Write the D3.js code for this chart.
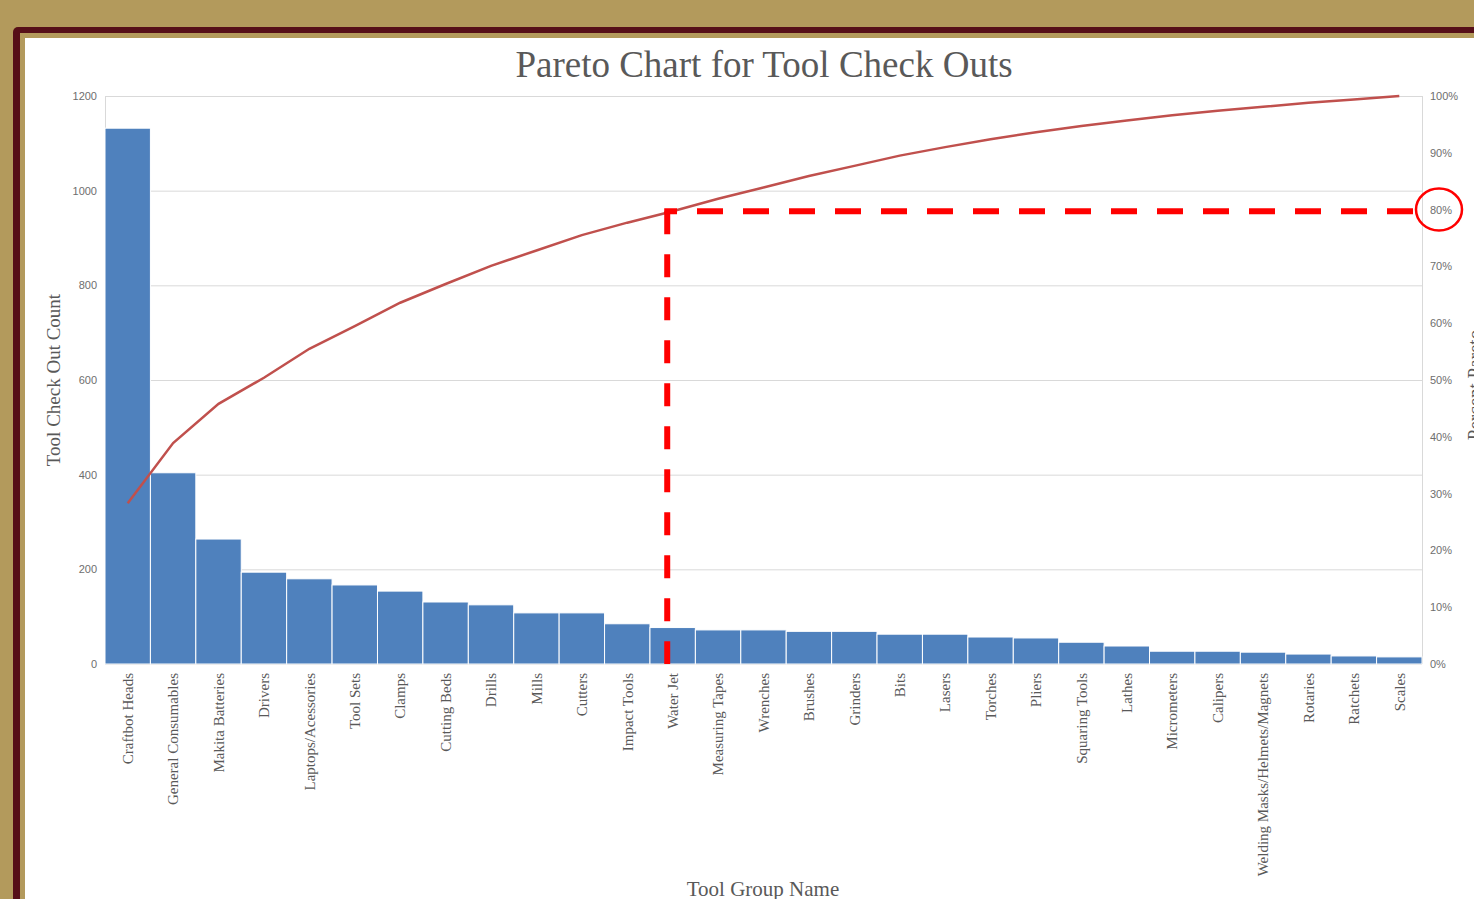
<!DOCTYPE html>
<html>
<head>
<meta charset="utf-8">
<script src="https://cdn.jsdelivr.net/npm/d3@7"></script>
<style>
html,body{margin:0;padding:0;background:#b39a5c;}
svg{display:block;}
</style>
</head>
<body>
<svg id="chart" width="1474" height="899"></svg>
<script>
const categories = ["Craftbot Heads","General Consumables","Makita Batteries","Drivers","Laptops/Acessories","Tool Sets","Clamps","Cutting Beds","Drills","Mills","Cutters","Impact  Tools","Water Jet","Measuring Tapes","Wrenches","Brushes","Grinders","Bits","Lasers","Torches","Pliers","Squaring Tools","Lathes","Micrometers","Calipers","Welding Masks/Helmets/Magnets","Rotaries","Ratchets","Scales"];
const counts = [1132,404,264,194,180,167,154,131,125,108,108,85,77,72,72,69,69,63,63,57,55,46,38,27,27,25,21,17,15];
const cumulativePct = [28.3,38.9,45.8,50.4,55.5,59.5,63.6,66.9,70.1,72.8,75.5,77.7,79.7,81.9,83.9,85.9,87.7,89.5,91.0,92.4,93.6,94.7,95.7,96.6,97.4,98.1,98.8,99.4,100];
const countTicks = [0,200,400,600,800,1000,1200];
const pctTicks = [0,10,20,30,40,50,60,70,80,90,100];
const chartTitle = "Pareto Chart for Tool Check Outs";
const yTitle = "Tool Check Out Count";
const y2Title = "Percent Pareto";
const xTitle = "Tool Group Name";
const cutoffCategory = "Water Jet";
const cutoffPct = 80;

const svg = d3.select("#chart");
const W = 1474, H = 899;
const L = 105, R = 1422, T = 96, B = 664;

// frame
svg.append("rect").attr("x",0).attr("y",0).attr("width",W).attr("height",H).attr("fill","#b39a5c");
svg.append("rect").attr("x",13).attr("y",27).attr("width",W+20).attr("height",H+20).attr("rx",5).attr("fill","#560f18");
svg.append("rect").attr("x",20).attr("y",33).attr("width",W+20).attr("height",H+20).attr("fill","#b39a5c");
svg.append("rect").attr("x",25).attr("y",38).attr("width",W).attr("height",H).attr("fill","#ffffff");

const x = d3.scaleBand().domain(categories).range([L,R]).padding(0);
const y = d3.scaleLinear().domain([0,1200]).range([B,T]);
const yP = d3.scaleLinear().domain([0,100]).range([B,T]);

// gridlines
svg.append("g").selectAll("line").data(countTicks).join("line")
  .attr("x1",L).attr("x2",R).attr("y1",d=>y(d)+0.5).attr("y2",d=>y(d)+0.5)
  .attr("stroke","#d9d9d9").attr("stroke-width",1);
svg.append("line").attr("x1",L+0.5).attr("x2",L+0.5).attr("y1",T).attr("y2",B).attr("stroke","#d9d9d9");
svg.append("line").attr("x1",R+0.5).attr("x2",R+0.5).attr("y1",T).attr("y2",B).attr("stroke","#d9d9d9");

// axes
const yAxis = d3.axisLeft(y).tickValues(countTicks).tickSize(0).tickPadding(8).tickFormat(d3.format("d"));
const gy = svg.append("g").attr("transform",`translate(${L},0)`).call(yAxis);
gy.select(".domain").remove();
gy.selectAll("text").attr("font-family","Liberation Sans, Arial, sans-serif").attr("font-size",11).attr("fill","#6e6e6e");

const y2Axis = d3.axisRight(yP).tickValues(pctTicks).tickSize(0).tickPadding(8).tickFormat(d=>d+"%");
const gy2 = svg.append("g").attr("transform",`translate(${R},0)`).call(y2Axis);
gy2.select(".domain").remove();
gy2.selectAll("text").attr("font-family","Liberation Sans, Arial, sans-serif").attr("font-size",11).attr("fill","#6e6e6e");

// bars
svg.append("g").selectAll("rect").data(categories).join("rect")
  .attr("x",d=>x(d)).attr("width",x.bandwidth())
  .attr("y",(d,i)=>y(counts[i])).attr("height",(d,i)=>B-y(counts[i]))
  .attr("fill","#4f81bd").attr("stroke","#ffffff").attr("stroke-width",1);

// x axis labels
const xAxis = d3.axisBottom(x).tickSize(0).tickPadding(0);
const gx = svg.append("g").attr("transform",`translate(0,${B})`).call(xAxis);
gx.select(".domain").remove();
gx.selectAll("text")
  .attr("font-family","Liberation Serif, Times New Roman, serif").attr("font-size",15).attr("fill","#595959")
  .attr("text-anchor","end").attr("transform","rotate(-90)")
  .attr("x",-9).attr("y",0).attr("dy","0.35em");

// cumulative line
const line = d3.line().x((d,i)=>x(categories[i])+x.bandwidth()/2).y(d=>yP(d));
svg.append("path").datum(cumulativePct).attr("d",line)
  .attr("fill","none").attr("stroke","#c0504d").attr("stroke-width",2.5);

// cutoff dashed lines
const ci = categories.indexOf(cutoffCategory);
const vx = x(cutoffCategory) + x.bandwidth()*0.38;
const vy = yP(cumulativePct[ci]);
svg.append("line").attr("x1",vx).attr("x2",vx).attr("y1",vy).attr("y2",B)
  .attr("stroke","#ff0000").attr("stroke-width",6).attr("stroke-dasharray","23,20");
svg.append("line").attr("x1",R-9).attr("x2",vx-3).attr("y1",vy).attr("y2",vy)
  .attr("stroke","#ff0000").attr("stroke-width",6).attr("stroke-dasharray","26,20");

// circle around 80%
svg.append("ellipse").attr("cx",R+17).attr("cy",yP(cutoffPct)).attr("rx",23).attr("ry",21)
  .attr("fill","none").attr("stroke","#ff0000").attr("stroke-width",2.5);

// titles
svg.append("text").attr("x",764).attr("y",77).attr("text-anchor","middle")
  .attr("font-family","Liberation Serif, Times New Roman, serif").attr("font-size",37).attr("fill","#595959")
  .text(chartTitle);
svg.append("text").attr("transform","translate(60,380) rotate(-90)").attr("text-anchor","middle")
  .attr("font-family","Liberation Serif, Times New Roman, serif").attr("font-size",19).attr("fill","#595959")
  .text(yTitle);
svg.append("text").attr("transform","translate(1481,385) rotate(-90)").attr("text-anchor","middle")
  .attr("font-family","Liberation Serif, Times New Roman, serif").attr("font-size",19).attr("fill","#595959")
  .text(y2Title);
svg.append("text").attr("x",763).attr("y",896).attr("text-anchor","middle")
  .attr("font-family","Liberation Serif, Times New Roman, serif").attr("font-size",21).attr("fill","#595959")
  .text(xTitle);
</script>
</body>
</html>
